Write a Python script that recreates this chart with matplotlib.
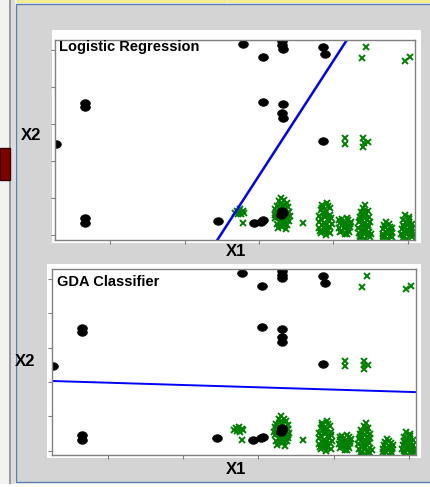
import numpy as np
import matplotlib
matplotlib.use("Agg")
from matplotlib import pyplot as plt
from matplotlib.patches import Rectangle
from matplotlib.path import Path

plt.rcParams['font.family'] = ['Liberation Sans', 'DejaVu Sans']

# class 0 samples (black dots), (X1, X2)
neg_pts = [(0.27, 2.46), (0.66, 3.58), (0.66, 3.46), (0.66, 0.46), (0.66, 0.32),
           (2.45, 0.38), (2.79, 5.16), (3.31, 5.24), (3.31, 5.13), (3.32, 5.03),
           (3.05, 4.81), (3.86, 5.08), (3.89, 4.89), (3.05, 3.59), (3.32, 3.54),
           (3.31, 3.30), (3.32, 3.16), (3.86, 2.54), (2.93, 0.32), (3.03, 0.36),
           (3.06, 0.40), (3.31, 0.66), (3.30, 0.55), (3.32, 0.60)]

# class 1 samples (green crosses), (X1, X2)
pos_pts = [(4.44, 5.08), (4.38, 4.78), (4.96, 4.70), (5.03, 4.81),
           (4.15, 2.62), (4.15, 2.46), (4.40, 2.62), (4.41, 2.49), (4.46, 2.50), (4.40, 2.38),
           (2.79, 0.32), (3.59, 0.32),
           # small group near 2.7
           (2.70, 0.66), (2.74, 0.70), (2.78, 0.64), (2.72, 0.58), (2.76, 0.56),
           (2.80, 0.60), (2.68, 0.60), (2.75, 0.62),
           # group near 3.3
           (3.24, 0.30), (3.31, 0.22), (3.38, 0.28), (3.22, 0.45), (3.30, 0.42),
           (3.39, 0.46), (3.23, 0.62), (3.31, 0.60), (3.40, 0.63), (3.24, 0.78),
           (3.32, 0.80), (3.39, 0.76), (3.27, 0.92), (3.34, 0.94), (3.30, 1.00),
           (3.25, 0.18), (3.36, 0.15), (3.21, 0.55), (3.41, 0.52), (3.28, 0.36),
           (3.35, 0.70), (3.27, 0.70), (3.34, 0.40), (3.26, 0.50), (3.36, 0.58),
           (3.29, 0.85), (3.37, 0.86), (3.22, 0.70), (3.33, 0.30), (3.29, 0.25),
           (3.40, 0.38),
           # group near 3.9
           (3.83, 0.05), (3.90, 0.00), (3.96, 0.06), (3.81, 0.20), (3.88, 0.17),
           (3.95, 0.22), (3.80, 0.36), (3.87, 0.33), (3.94, 0.38), (3.98, 0.30),
           (3.81, 0.52), (3.89, 0.50), (3.96, 0.55), (3.83, 0.67), (3.90, 0.65),
           (3.95, 0.72), (3.85, 0.82), (3.91, 0.86), (3.88, 0.10), (3.92, 0.44),
           (3.85, 0.27), (3.86, 0.60), (3.82, 0.12), (3.93, 0.12), (3.90, 0.26),
           (3.83, 0.44), (3.97, 0.46), (3.88, 0.58), (3.92, 0.78), (3.84, 0.74),
           # group near 4.15
           (4.09, 0.07), (4.15, 0.03), (4.21, 0.08), (4.07, 0.20), (4.14, 0.18),
           (4.22, 0.22), (4.09, 0.33), (4.16, 0.31), (4.23, 0.35), (4.11, 0.43),
           (4.18, 0.45), (4.12, 0.12), (4.19, 0.14), (4.15, 0.26), (4.08, 0.40),
           (4.20, 0.40), (4.18, 0.03), (4.11, 0.26), (4.22, 0.30),
           # group near 4.4
           (4.36, -0.08), (4.43, -0.12), (4.49, -0.06), (4.34, 0.06), (4.41, 0.04),
           (4.48, 0.09), (4.51, 0.02), (4.33, 0.20), (4.40, 0.18), (4.47, 0.22),
           (4.34, 0.34), (4.42, 0.32), (4.49, 0.36), (4.35, 0.48), (4.42, 0.47),
           (4.48, 0.50), (4.37, 0.61), (4.43, 0.63), (4.40, 0.72), (4.43, 0.81),
           (4.38, 0.12), (4.45, 0.41), (4.39, 0.27), (4.35, 0.40), (4.46, 0.28),
           (4.36, -0.02), (4.46, 0.00), (4.44, 0.56), (4.38, 0.54), (4.46, 0.66),
           (4.42, 0.12),
           # group near 4.7
           (4.67, -0.08), (4.73, -0.11), (4.78, -0.06), (4.66, 0.04), (4.72, 0.02),
           (4.78, 0.06), (4.67, 0.16), (4.73, 0.14), (4.79, 0.18), (4.68, 0.27),
           (4.74, 0.30), (4.71, 0.35), (4.70, 0.08), (4.76, 0.22), (4.69, 0.22),
           (4.77, 0.12), (4.66, -0.02), (4.76, -0.02),
           # group near 5.0
           (4.93, -0.08), (4.99, -0.11), (5.05, -0.06), (4.91, 0.04), (4.98, 0.02),
           (5.04, 0.06), (4.92, 0.16), (4.99, 0.14), (5.06, 0.18), (4.93, 0.28),
           (5.00, 0.27), (5.05, 0.31), (4.94, 0.40), (5.01, 0.42), (4.96, 0.54),
           (5.02, 0.50), (4.97, 0.09), (5.03, 0.22), (4.95, 0.22), (5.02, 0.34),
           (4.94, 0.00), (5.04, 0.13), (4.97, 0.35), (5.07, 0.00)]

# decision boundaries: x2 = a + b * x1
logreg_coef = (-7.716, 3.107)
gda_coef = (2.05, -0.067)

titles = ['Logistic Regression', 'GDA Classifier']
x_ticks = [1, 2, 3, 4, 5]
y_ticks = [0, 1, 2, 3, 4, 5]

W, H = 431, 487
fig = plt.figure(figsize=(W / 100, H / 100), dpi=100, facecolor='#f2f2f2')


def box(x0, y0, x1, y1, **kw):
    # pixel box (top-left origin) -> figure rectangle, kept behind the axes
    r = Rectangle((x0 / W, 1 - y1 / H), (x1 - x0) / W, (y1 - y0) / H,
                  transform=fig.transFigure, zorder=-10, **kw)
    fig.patches.append(r)


# window chrome
box(16, 4, 431, 482, facecolor='#d4d4d4', edgecolor='#5a7fb5', lw=1)
box(17, 0, 227, 3, facecolor='#f2ec8e', edgecolor='none')
box(228, 0, 431, 3, facecolor='#f2ec8e', edgecolor='none')
box(9, 0, 11, 487, facecolor='#9a9a9a', edgecolor='none')
box(11, 0, 15, 487, facecolor='#dcdcdc', edgecolor='none')
box(0, 148, 10, 180, facecolor='#800000', edgecolor='#3a0000', lw=1)
box(0, 484, 431, 487, facecolor='#ffffff', edgecolor='none')
box(52, 30, 421, 243, facecolor='white', edgecolor='none')
box(47, 264, 421, 458, facecolor='white', edgecolor='none')

# slightly flattened dot marker
t = np.linspace(0, 2 * np.pi, 40)
dot = Path(np.column_stack([np.cos(t), 0.78 * np.sin(t)]), closed=True)

ax1 = fig.add_axes([55 / W, 1 - 240 / H, 360 / W, 200 / H])
ax2 = fig.add_axes([52 / W, 1 - 455 / H, 364 / W, 186 / H])

nx = [p[0] for p in neg_pts]
ny = [p[1] for p in neg_pts]
px = [p[0] for p in pos_pts]
py = [p[1] for p in pos_pts]

for ax, title, coef, ylim, lw in [(ax1, titles[0], logreg_coef, (-0.135, 5.27), 1.8),
                                  (ax2, titles[1], gda_coef, (-0.12, 5.29), 1.4)]:
    ax.plot(px, py, 'x', color='#008000', ms=5, mew=1.4)
    ax.plot(nx, ny, ls='none', marker=dot, color='black', ms=7, mec='black', mew=0.5)
    xl = np.array([0.26, 5.095])
    ax.plot(xl, coef[0] + coef[1] * xl, color='#0000ff', lw=lw)
    ax.set_xlim(0.26, 5.095)
    ax.set_ylim(*ylim)
    ax.set_xticks(x_ticks)
    ax.set_yticks(y_ticks)
    ax.set_xticklabels([])
    ax.set_yticklabels([])
    ax.tick_params(direction='out', length=3, color='#808080', width=0.8)
    for s in ax.spines.values():
        s.set_color('#808080')
        s.set_linewidth(1)
    ax.set_facecolor('white')

ax1.text(0.011, 1.0, titles[0], transform=ax1.transAxes, ha='left', va='top',
         fontsize=10.5, fontweight='bold')
ax2.text(0.014, 0.968, titles[1], transform=ax2.transAxes, ha='left', va='top',
         fontsize=10.5, fontweight='bold')

fig.text(31 / W, 1 - 136 / H, 'X2', ha='center', va='center', fontsize=12, fontweight='bold')
fig.text(25 / W, 1 - 362 / H, 'X2', ha='center', va='center', fontsize=12, fontweight='bold')
fig.text(236 / W, 1 - 251 / H, 'X1', ha='center', va='center', fontsize=12, fontweight='bold')
fig.text(236 / W, 1 - 469 / H, 'X1', ha='center', va='center', fontsize=12, fontweight='bold')

fig.savefig('out.png', dpi=100, facecolor=fig.get_facecolor())
